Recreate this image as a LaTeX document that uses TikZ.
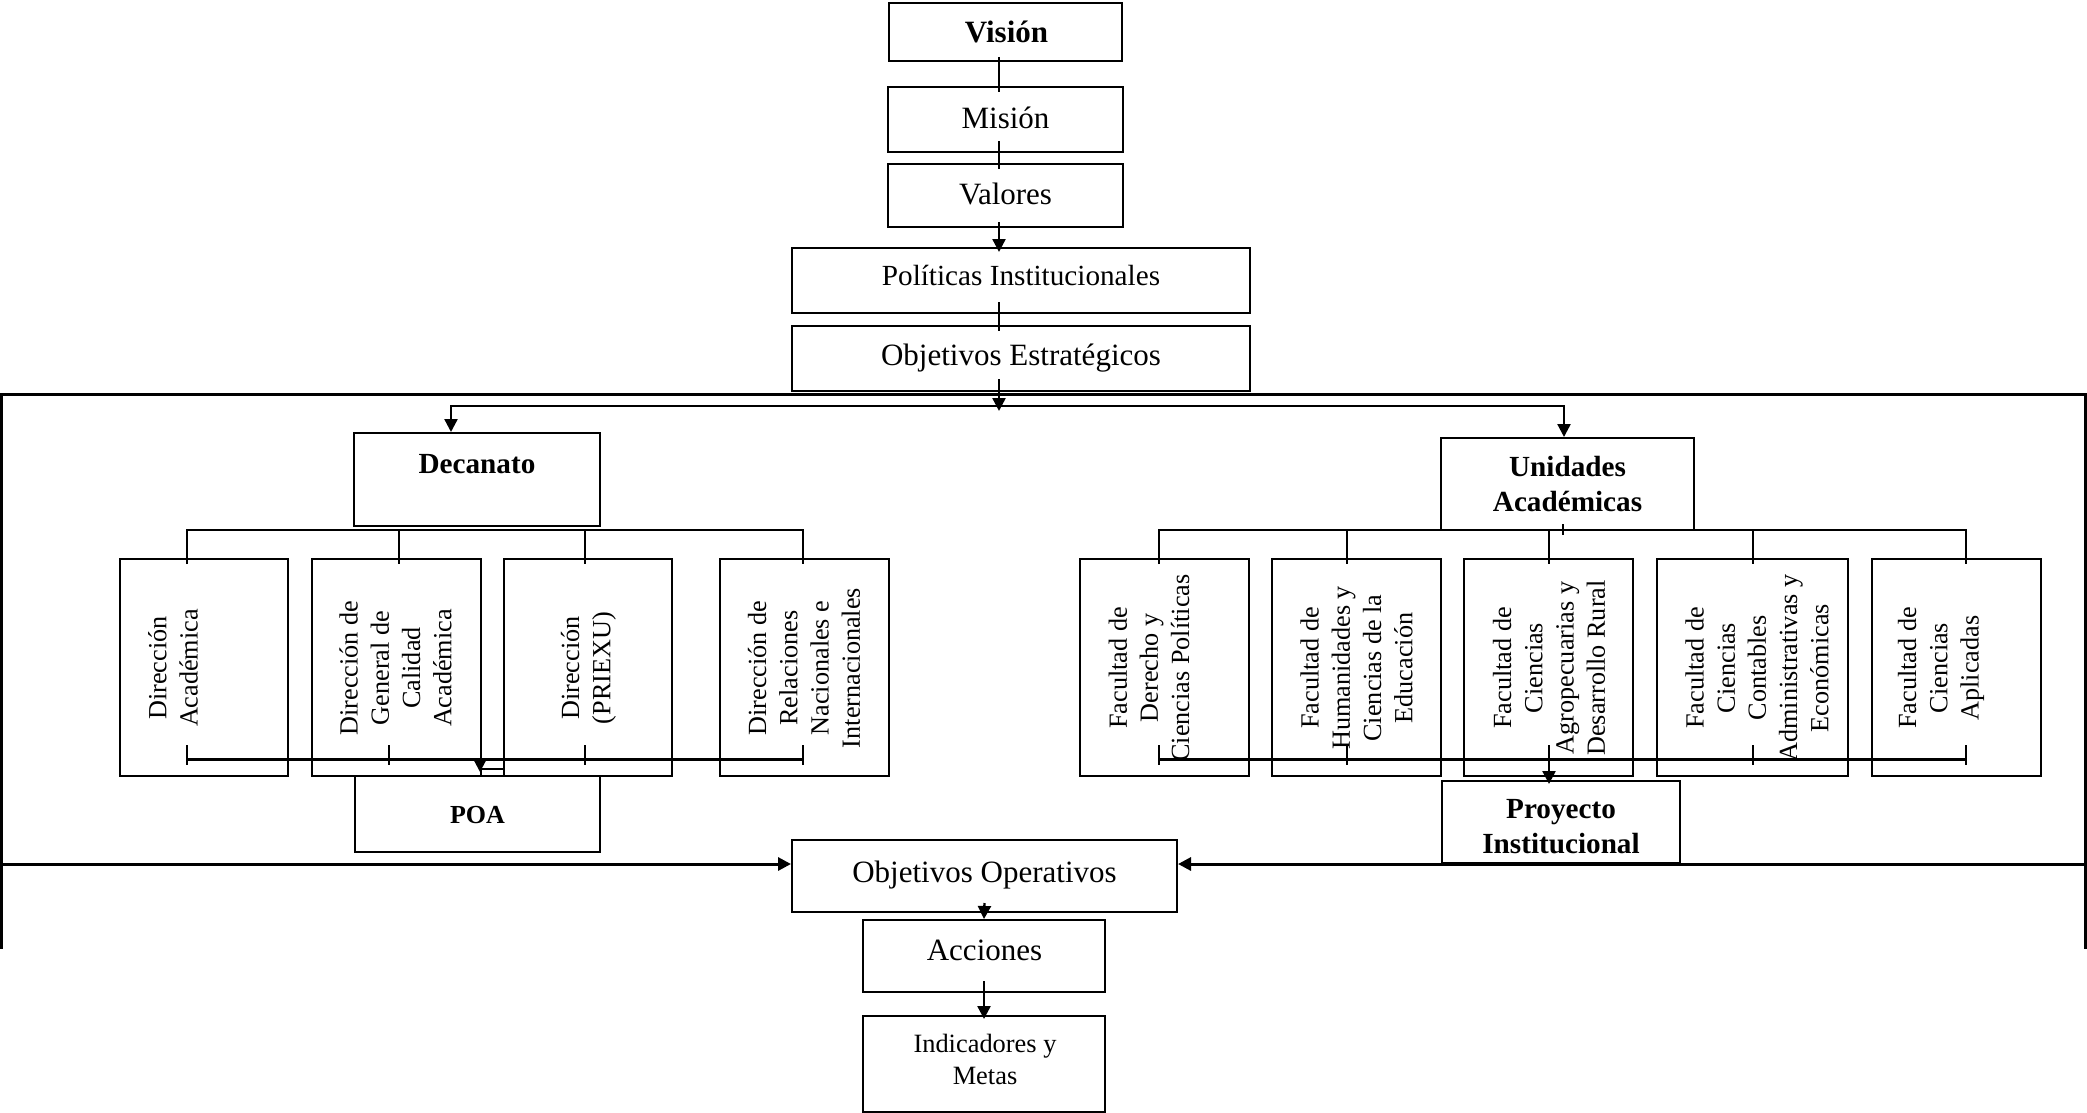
\documentclass[tikz,border=0pt]{standalone}
\usepackage{fontspec}
\setmainfont{Liberation Serif}
\usetikzlibrary{arrows.meta}
\newcommand\fBig{\fontsize{15.5}{18}\selectfont}
\newcommand\fPol{\fontsize{14.6}{17}\selectfont}
\newcommand\fMedB{\fontsize{14.6}{17.5}\selectfont\bfseries}
\newcommand\fPoa{\fontsize{13}{15}\selectfont\bfseries}
\newcommand\fInd{\fontsize{13.2}{16}\selectfont}
\newcommand\fRot{\fontsize{13.1}{15.6}\selectfont}
\begin{document}
\begin{tikzpicture}[x=0.5pt,y=-0.5pt,
  box/.style={draw,line width=1pt,inner sep=0pt,align=center},
  txt/.style={inner sep=0pt,anchor=base,align=center},
  rtext/.style={rotate=90,align=center,inner sep=0pt,font=\fRot},
  conn/.style={line width=1pt},
  heavy/.style={line width=1.5pt},
  arr/.style={line width=1.2pt,-{Triangle[length=6.5pt,width=6.5pt]}},
  harr/.style={line width=1.5pt,-{Triangle[length=6.5pt,width=6.5pt]}},
  tick/.style={line width=1pt}]
\useasboundingbox (0,0) rectangle (2087,1113);

% ---- top stack
\node[box,minimum width=116.5pt,minimum height=29pt] (vision) at (1005.5,32) {};
\node[txt,font=\fBig\bfseries] (visionT) at (1006.5,43) {Visión};
\node[box,minimum width=117.5pt,minimum height=32.5pt] (mision) at (1005.5,119.5) {};
\node[txt,font=\fBig] (misionT) at (1005.5,128) {Misión};
\node[box,minimum width=117.5pt,minimum height=31.5pt] (valores) at (1005.5,195.5) {};
\node[txt,font=\fBig] (valoresT) at (1005.5,204) {Valores};
\node[box,minimum width=229pt,minimum height=32.5pt] (politicas) at (1021,280.5) {};
\node[txt,font=\fPol] (politicasT) at (1021,285) {Políticas Institucionales};
\node[box,minimum width=229pt,minimum height=32.5pt] (objE) at (1021,358.5) {};
\node[txt,font=\fBig] (objET) at (1021,365) {Objetivos Estratégicos};

\coordinate (cx) at (999,0);
\draw[conn] ([yshift=2.5pt]vision.south -| cx) -- ([yshift=-3pt]mision.north -| cx);
\draw[conn] ([yshift=6pt]mision.south -| cx) -- ([yshift=-3pt]valores.north -| cx);
\draw[arr] ([yshift=3pt]valores.south -| cx) -- ([yshift=-2.5pt]politicas.north -| cx);
\draw[conn] ([yshift=6pt]politicas.south -| cx) -- ([yshift=-3pt]objE.north -| cx);

% ---- frame
\coordinate (fBL) at (1,949);
\coordinate (fTL) at (1,394);
\coordinate (fTR) at (2085,394);
\coordinate (fBR) at (2085,949);
\draw[heavy] (fBL) -- (fTL) -- (fTR) -- (fBR);

% ---- second level
\node[box,minimum width=123pt,minimum height=46.5pt] (decanato) at (477,479.5) {};
\node[txt,font=\fMedB] (decanatoT) at (477,473) {Decanato};
\node[box,minimum width=126.5pt,minimum height=46pt,font=\fMedB] (unidades) at (1567.5,484) {Unidades\\Académicas};

\coordinate (split) at (999,411);
\draw[arr] ([yshift=6.5pt]objE.south -| cx) -- (split);
\coordinate (bl) at (451,406);
\coordinate (br) at (1564,406);
\draw[line width=1.2pt,{Triangle[length=6.5pt,width=6.5pt]}-{Triangle[length=6.5pt,width=6.5pt]}]
  (decanato.north -| bl) -- (bl) -- (br) -- (unidades.north -| br);

% ---- direction boxes
\node[box,minimum width=84pt,minimum height=108.5pt] (d1) at (204,667.5) {};
\node[box,minimum width=84.5pt,minimum height=108.5pt] (d2) at (396.5,667.5) {};
\node[box,minimum width=84pt,minimum height=108.5pt] (d3) at (588,667.5) {};
\node[box,minimum width=84.5pt,minimum height=108.5pt] (d4) at (804.5,667.5) {};
\node[rtext] (d1t) at (173,668) {Dirección\\Académica};
\node[rtext] (d2t) at (395.5,668) {Dirección de\\General de\\Calidad\\Académica};
\node[rtext] (d3t) at (588.5,668) {Dirección\\(PRIEXU)};
\node[rtext] (d4t) at (804,668) {Dirección de\\Relaciones\\Nacionales e\\Internacionales};

% ---- faculty boxes
\node[box,minimum width=84.5pt,minimum height=108.5pt] (f1) at (1164.5,667.5) {};
\node[box,minimum width=84.5pt,minimum height=108.5pt] (f2) at (1356.5,667.5) {};
\node[box,minimum width=84.5pt,minimum height=108.5pt] (f3) at (1548.5,667.5) {};
\node[box,minimum width=95.5pt,minimum height=108.5pt] (f4) at (1752.5,667.5) {};
\node[box,minimum width=84.5pt,minimum height=108.5pt] (f5) at (1956.5,667.5) {};
\node[rtext] (f1t) at (1149,668) {Facultad de\\Derecho y\\Ciencias Políticas};
\node[rtext] (f2t) at (1356.5,668) {Facultad de\\Humanidades y\\Ciencias de la\\Educación};
\node[rtext] (f3t) at (1549,668) {Facultad de\\Ciencias\\Agropecuarias y\\Desarrollo Rural};
\node[rtext] (f4t) at (1757,668) {Facultad de\\Ciencias\\Contables\\Administrativas y\\Económicas};
\node[rtext] (f5t) at (1941,668) {Facultad de\\Ciencias\\Aplicadas};

% ---- Decanato distribution (top)
\coordinate (xa) at (187,530);
\coordinate (xb) at (399,530);
\coordinate (xc) at (585,530);
\coordinate (xd) at (803,530);
\draw[conn] ([yshift=-3pt]d1.north -| xa) -- (xa) -- (xd) -- ([yshift=-3pt]d4.north -| xd);
\draw[conn] (xb) -- ([yshift=-3pt]d2.north -| xb);
\draw[conn] (xc) -- ([yshift=-3pt]d3.north -| xc);

% ---- Unidades distribution (top)
\coordinate (ya) at (1159,530);
\coordinate (yb) at (1347,530);
\coordinate (yc) at (1549,530);
\coordinate (yd) at (1753,530);
\coordinate (ye) at (1966,530);
\draw[conn] ([yshift=-3pt]f1.north -| ya) -- (ya) -- (ye) -- ([yshift=-3pt]f5.north -| ye);
\draw[conn] (yb) -- ([yshift=-3pt]f2.north -| yb);
\draw[conn] (yc) -- ([yshift=-3pt]f3.north -| yc);
\draw[conn] (yd) -- ([yshift=-3pt]f4.north -| yd);
\coordinate (ut) at (1563,524);
\draw[tick] (ut) -- ++(0,11);

% ---- POA and Proyecto
\node[box,minimum width=122.5pt,minimum height=38pt] (poa) at (477.5,814) {};
\node[txt,font=\fPoa] (poaT) at (477.5,823) {POA};
\node[box,minimum width=119pt,minimum height=41pt] (proyecto) at (1561,822) {};
\node[inner sep=0pt,align=center,font=\fMedB] (proyectoT) at (1561,827) {Proyecto\\Institucional};

% ---- Decanato collection (bottom)
\coordinate (pa) at (187,759);
\coordinate (pb) at (389,759);
\coordinate (pc) at (585,759);
\coordinate (pd) at (803,759);
\draw[heavy] (pa) -- (pd);
\foreach \c in {pa,pb,pc,pd} \draw[tick] ([yshift=7pt]\c) -- ([yshift=-3pt]\c);
\coordinate (pArr) at (480,759);
\draw[arr] (pArr) -- ([yshift=1.5pt]poa.north -| pArr);
\draw[conn] ([yshift=4pt]d2.south east) -- ([yshift=4pt]d3.south west);

% ---- Unidades collection (bottom)
\coordinate (qa) at (1159,759);
\coordinate (qb) at (1347,759);
\coordinate (qd) at (1753,759);
\coordinate (qe) at (1966,759);
\draw[heavy] (qa) -- (qe);
\foreach \c in {qa,qb,qd,qe} \draw[tick] ([yshift=7pt]\c) -- ([yshift=-3pt]\c);
\coordinate (qArr) at (1549,745);
\draw[arr] (qArr) -- ([yshift=-2pt]proyecto.north -| qArr);

% ---- operational level
\node[box,minimum width=192.5pt,minimum height=36pt] (objO) at (984.5,876) {};
\node[txt,font=\fBig] (objOT) at (984.5,882) {Objetivos Operativos};
\node[box,minimum width=121pt,minimum height=36pt] (acciones) at (984,956) {};
\node[txt,font=\fBig] (accionesT) at (984.5,960) {Acciones};
\node[box,minimum width=121pt,minimum height=48pt] (indic) at (984,1064) {};
\node[inner sep=0pt,align=center,font=\fInd] (indicT) at (985,1059) {Indicadores y\\Metas};

\coordinate (hl) at (1,864);
\coordinate (hr) at (2085,864);
\draw[harr] (hl) -- ([yshift=6pt]objO.west);
\draw[harr] (hr) -- ([yshift=6pt]objO.east);
\draw[arr] ([yshift=5pt]objO.south) -- (acciones.north);
\draw[arr] ([yshift=6pt]acciones.south) -- ([yshift=-2pt]indic.north);
\end{tikzpicture}
\end{document}
